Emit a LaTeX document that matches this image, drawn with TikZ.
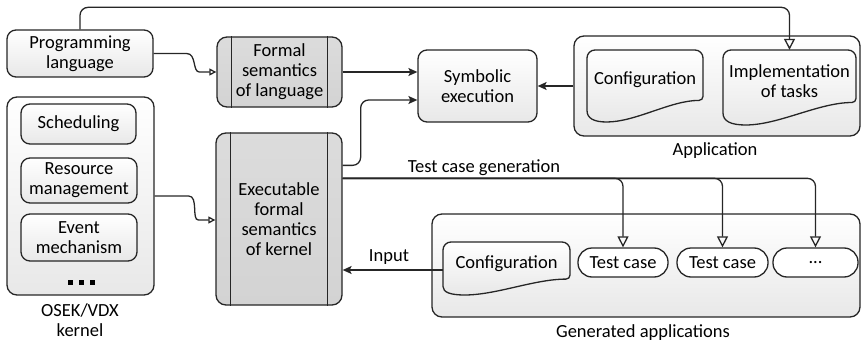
\documentclass[tikz,border=0pt]{standalone}
\usepackage{fontspec}
\setmainfont{Carlito}
\usetikzlibrary{arrows.meta,calc}

\definecolor{ink}{HTML}{262626}
\definecolor{panel}{HTML}{E8E8E8}
\definecolor{grayface}{HTML}{D3D3D3}

% document shape: top-left (x0,y0), bottom-right (x1,y1) at the lowest point of the wave, y grows downwards
\newcommand\docshape[4]{%
  \pgfmathsetmacro\dw{#3-#1}\pgfmathsetmacro\dh{#4-#2}%
  \draw[docline]
    (#1,{#2+0.84*\dh}) [rounded corners=8] -- (#1,#2) -- (#3,#2)
    [rounded corners=4] -- (#3,{#2+0.70*\dh})
    [sharp corners] .. controls ({#1+0.72*\dw},{#2+0.70*\dh}) and ({#1+0.42*\dw},{#2+1.0*\dh}) .. ({#1+0.17*\dw},{#2+1.0*\dh})
    .. controls ({#1+0.06*\dw},{#2+1.0*\dh}) and (#1,{#2+0.95*\dh}) .. (#1,{#2+0.84*\dh}) -- cycle;}

\begin{document}
\begin{tikzpicture}[x=1pt,y=-1pt,
  every node/.style={font=\fontsize{18.5}{20}\selectfont, text=black},
  line/.style={draw=ink, line width=1.3pt},
  procbox/.style={line, rounded corners=9, top color=white, bottom color=panel, align=center, inner sep=0pt},
  panelbox/.style={line, rounded corners=10, top color=white, bottom color=panel, inner sep=0pt},
  predef/.style={line, rounded corners=10, top color=grayface!80, bottom color=grayface, align=center, inner sep=0pt},
  termbox/.style={line, rounded corners=14, fill=white, align=center, inner sep=0pt, minimum width=90pt, minimum height=29pt},
  docline/.style={line, top color=white, bottom color=panel},
  doctext/.style={align=center, inner sep=0pt},
  label/.style={align=center, inner sep=0pt},
  conn/.style={line, rounded corners=8},
  filled/.style={-{Stealth[length=9pt,width=8pt,inset=2pt]}},
  hollow/.style={-{Triangle[open,length=11pt,width=11pt]}},
  hollowsmall/.style={-{Triangle[open,length=7pt,width=7pt]}}]
\useasboundingbox (0,0) rectangle (862,345);

% ---------- outer panels ----------
\node[panelbox, minimum width=286pt, minimum height=100pt] (app) at (717,86) {};
\node[label] at (715,151) {Application};
\node[panelbox, minimum width=147pt, minimum height=198pt] (kern) at (80.5,196) {};
\node[label] at (80,320) {OSEK/VDX\\kernel};
\node[panelbox, minimum width=428pt, minimum height=103pt] (gen) at (646,265.5) {};
\node[label] at (643,333) {Generated applications};

% ---------- process boxes ----------
\node[procbox, minimum width=146pt, minimum height=47pt] (prog) at (80,53.5) {Programming\\language};
\node[procbox, minimum width=119pt, minimum height=72pt] (sym) at (477.5,86) {Symbolic\\execution};

\node[procbox, minimum width=115pt, minimum height=40pt] (sched) at (78.5,124) {Scheduling};
\node[procbox, minimum width=116pt, minimum height=45pt] (res) at (79,180.5) {Resource\\management};
\node[procbox, minimum width=116pt, minimum height=47pt] (evt) at (79,237.5) {Event\\mechanism};
\node[label] (dots) at (81,282) {\rule{5pt}{5pt}\hspace{6pt}\rule{5pt}{5pt}\hspace{6pt}\rule{5pt}{5pt}};

% ---------- predefined-process boxes ----------
\node[predef, minimum width=125pt, minimum height=70pt] (form) at (279.5,72) {Formal\\semantics\\of language};
\node[predef, minimum width=126pt, minimum height=172pt] (exe) at (279,219) {Executable\\formal\\semantics\\of kernel};
\foreach \b in {form,exe}{
  \draw[line] ($(\b.north west)+(15,0)$) -- ($(\b.south west)+(15,0)$);
  \draw[line] ($(\b.north east)+(-15,0)$) -- ($(\b.south east)+(-15,0)$);
}

% ---------- documents ----------
\docshape{587}{50}{703}{122}
\node[doctext, minimum width=116pt, minimum height=60pt] (acfg) at (645,80) {Configuration};
\docshape{723}{50}{856}{125}
\node[doctext, minimum width=133pt, minimum height=62pt] (impl) at (789.5,81) {Implementation\\of tasks};
\docshape{443}{242}{570}{295}
\node[doctext, minimum width=127pt, minimum height=44pt] (gcfg) at (506.5,264) {Configuration};

% ---------- test cases ----------
\node[termbox] (tc1) at (623,262.5) {Test case};
\node[termbox, minimum width=91pt] (tc2) at (722.5,262.5) {Test case};
\node[termbox, minimum width=85pt] (tc3) at (815.5,262.5) {...};

% ---------- connectors ----------
\draw[conn, hollow] (prog.north) -- ++(0,-22) -| (impl.north);
\draw[line, hollowsmall] (prog.east) -- ++(33,0)
  .. controls +(10,0) and +(-7,0) .. ($(form.west)+(-17,0)$) -- (form.west);
\draw[line, hollowsmall] (kern.east) -- ++(34,0)
  .. controls +(10,0) and +(-7,0) .. ($(exe.west)+(-17,1)$) -- ($(exe.west)+(0,1)$);
\draw[line, filled] (form.east) -- (form.east -| sym.west);
\draw[conn, filled] ($(exe.north east)+(0,33)$) -- ++(18,0) |- ($(sym.west)+(0,14)$);
\draw[line, filled] (app.west) -- (sym.east);

\coordinate (tg) at ($(exe.north east)+(0,46)$);
\draw[conn, hollow] (tg) -| (tc3.north);
\draw[conn, hollow] (tg) -| (tc2.north);
\draw[conn, hollow] (tg) -| (tc1.north);
\node[label] at (484,168) {Test case generation};

\draw[line, filled] ($(gcfg.west)+(0,6)$) -- ($(exe.east)+(0,51)$);
\node[label] at (389,257) {Input};
\end{tikzpicture}
\end{document}
